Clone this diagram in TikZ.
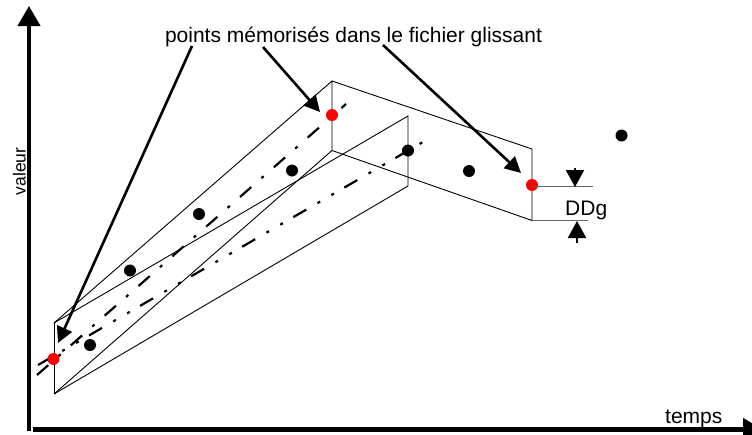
\documentclass[tikz,border=0pt]{standalone}
\usepackage{fontspec}
\setmainfont{Liberation Sans}
\usetikzlibrary{arrows.meta}
\begin{document}
\begin{tikzpicture}[x=1pt,y=-1pt,
  frame/.style={line width=0.9pt},
  fitA/.style={line width=2.2pt, dash pattern=on 15pt off 13.5pt on 3pt off 13.5pt},
  fitB/.style={line width=2.2pt, dash pattern=on 15pt off 13pt on 3pt off 13pt on 3pt off 12pt},
  callout/.style={line width=2.6pt, -{Triangle[length=16pt,width=16pt]}},
  axis/.style={line width=4.2pt, -{Triangle[length=20pt,width=22pt]}},
  bdot/.style={circle, fill=black, inner sep=0pt, minimum size=12pt},
  rdot/.style={circle, fill=red, inner sep=0pt, minimum size=12pt},
  lbl/.style={font=\fontsize{21}{25}\selectfont, inner sep=0pt},
  gapline/.style={draw=black!60, line width=1.4pt},
  gaparrow/.style={line width=2pt, -{Triangle[length=17pt,width=18pt]}}
]
\clip (0,0) rectangle (752,434);

% axes
\coordinate (yfoot) at (29,430.5);
\coordinate (ytip) at (29,6);
\coordinate (xfoot) at (33,429.5);
\coordinate (xtip) at (763,429.5);
\draw[axis] (yfoot) -- (ytip);
\draw[axis] (xfoot) -- (xtip);

% window corners
\coordinate (A1) at (54,323);
\coordinate (A2) at (54,394);
\coordinate (B1) at (332,81);
\coordinate (B2) at (332,150.5);
\coordinate (C1) at (408,116);
\coordinate (C2) at (408,186);
\coordinate (D1) at (532,149);
\coordinate (D2) at (532,220.5);

% sliding windows
\draw[frame] (A1) -- (A2);
\draw[frame] (A1) -- (B1) -- (B2) -- (A2);
\draw[frame] (A1) -- (C1) -- (C2) -- (A2);
\draw[frame] (B1) -- (D1) -- (D2) -- (B2);

% fitted lines
\coordinate (a0) at (37,375);
\coordinate (a1) at (346,104);
\coordinate (b0) at (38,365);
\coordinate (b1) at (423,142);
\draw[fitA] (a0) -- (a1);
\draw[fitB] (b0) -- (b1);

% samples
\node[bdot] (s1) at (90,345) {};
\node[bdot] (s2) at (130,270.5) {};
\node[bdot] (s3) at (199,214) {};
\node[bdot] (s4) at (292,170.5) {};
\node[bdot] (s5) at (408,150.5) {};
\node[bdot] (s6) at (469,171) {};
\node[bdot] (s7) at (621.5,135.5) {};
\node[rdot] (r1) at (53.5,359) {};
\node[rdot] (r2) at (332,115) {};
\node[rdot] (r3) at (532,185) {};

% caption and its pointers
\node[lbl, anchor=base] (title) at (353.5,42) {points mémorisés dans le fichier glissant};
\coordinate (c1s) at (192,46);
\coordinate (c1t) at (58,343);
\coordinate (c2s) at (263,47);
\coordinate (c2t) at (320,112);
\coordinate (c3s) at (383,45);
\coordinate (c3t) at (521,173);
\draw[callout] (c1s) -- (c1t);
\draw[callout] (c2s) -- (c2t);
\draw[callout] (c3s) -- (c3t);

% DDg gap marker
\coordinate (g0) at (532,186.5);
\coordinate (g1) at (593,186.5);
\coordinate (g2) at (588,220.5);
\draw[gapline] (g0) -- (g1);
\draw[gapline] (D2) -- (g2);
\coordinate (u0) at (575,168);
\coordinate (u1) at (575,187);
\coordinate (l0) at (577,243);
\coordinate (l1) at (577,221);
\draw[gaparrow] (u0) -- (u1);
\draw[gaparrow] (l0) -- (l1);
\node[lbl, anchor=base west] (ddg) at (565,215) {DDg};

% axis labels
\node[lbl, anchor=base west] (temps) at (665,423) {temps};
\node[font=\fontsize{17.5}{20}\selectfont, inner sep=0pt, rotate=90, anchor=base] (valeur) at (25.5,171.5) {valeur};
\end{tikzpicture}
\end{document}
